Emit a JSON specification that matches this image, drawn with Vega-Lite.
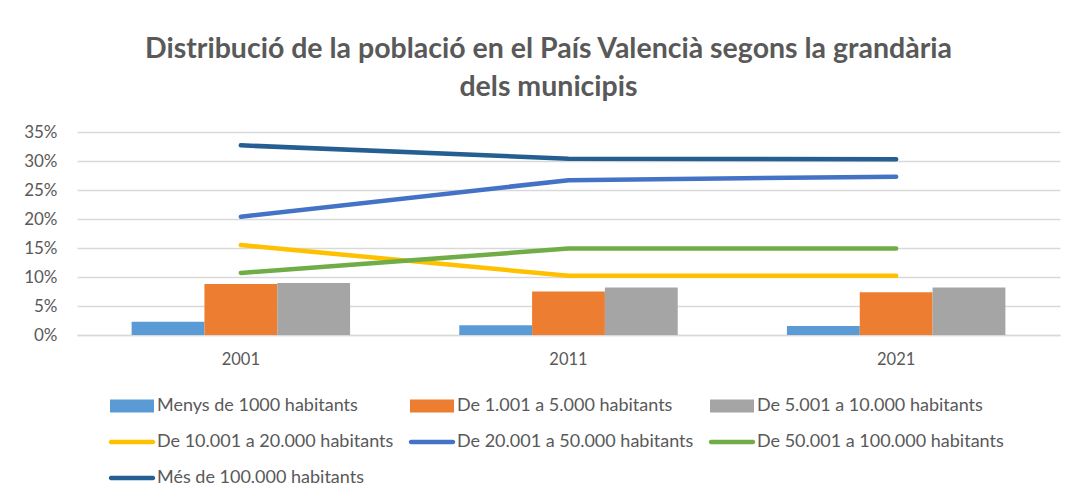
{
  "$schema": "https://vega.github.io/schema/vega-lite/v6.json",
  "autosize": {"type": "none"},
  "width": 983,
  "height": 203,
  "padding": {"left": 77, "top": 132, "right": 11, "bottom": 163},
  "background": "white",
  "config": {
    "view": {"stroke": null},
    "font": "Lato"
  },
  "title": {
    "text": ["Distribució de la població en el País Valencià segons la grandària", "dels municipis"],
    "font": "Lato",
    "fontSize": 28.5,
    "fontWeight": "bold",
    "color": "#595959",
    "lineHeight": 38,
    "anchor": "middle",
    "frame": "group",
    "dx": -20,
    "offset": 22
  },
  "data": {
    "values": [
      {"year": "2001", "series": "Menys de 1000 habitants", "kind": "bar", "value": 0.023},
      {"year": "2011", "series": "Menys de 1000 habitants", "kind": "bar", "value": 0.017},
      {"year": "2021", "series": "Menys de 1000 habitants", "kind": "bar", "value": 0.0155},
      {"year": "2001", "series": "De 1.001 a 5.000 habitants", "kind": "bar", "value": 0.088},
      {"year": "2011", "series": "De 1.001 a 5.000 habitants", "kind": "bar", "value": 0.075},
      {"year": "2021", "series": "De 1.001 a 5.000 habitants", "kind": "bar", "value": 0.0735},
      {"year": "2001", "series": "De 5.001 a 10.000 habitants", "kind": "bar", "value": 0.0895},
      {"year": "2011", "series": "De 5.001 a 10.000 habitants", "kind": "bar", "value": 0.082},
      {"year": "2021", "series": "De 5.001 a 10.000 habitants", "kind": "bar", "value": 0.082},
      {"year": "2001", "series": "De 10.001 a 20.000 habitants", "kind": "line", "value": 0.155},
      {"year": "2011", "series": "De 10.001 a 20.000 habitants", "kind": "line", "value": 0.102},
      {"year": "2021", "series": "De 10.001 a 20.000 habitants", "kind": "line", "value": 0.102},
      {"year": "2001", "series": "De 20.001 a 50.000 habitants", "kind": "line", "value": 0.204},
      {"year": "2011", "series": "De 20.001 a 50.000 habitants", "kind": "line", "value": 0.267},
      {"year": "2021", "series": "De 20.001 a 50.000 habitants", "kind": "line", "value": 0.273},
      {"year": "2001", "series": "De 50.001 a 100.000 habitants", "kind": "line", "value": 0.107},
      {"year": "2011", "series": "De 50.001 a 100.000 habitants", "kind": "line", "value": 0.149},
      {"year": "2021", "series": "De 50.001 a 100.000 habitants", "kind": "line", "value": 0.149},
      {"year": "2001", "series": "Més de 100.000 habitants", "kind": "line", "value": 0.327},
      {"year": "2011", "series": "Més de 100.000 habitants", "kind": "line", "value": 0.304},
      {"year": "2021", "series": "Més de 100.000 habitants", "kind": "line", "value": 0.303}
    ]
  },
  "encoding": {
    "x": {
      "field": "year",
      "type": "nominal",
      "scale": {"paddingInner": 0.3333, "paddingOuter": 0.16667},
      "axis": {
        "title": null,
        "labelAngle": 0,
        "labelFontSize": 16.5,
        "labelColor": "#595959",
        "labelPadding": 16,
        "ticks": false,
        "domainColor": "#d9d9d9",
        "domainWidth": 1.5
      }
    },
    "y": {
      "field": "value",
      "type": "quantitative",
      "scale": {"domain": [0, 0.35], "nice": false},
      "axis": {
        "title": null,
        "format": ".0%",
        "values": [0, 0.05, 0.1, 0.15, 0.2, 0.25, 0.3, 0.35],
        "labelFontSize": 17,
        "labelColor": "#595959",
        "labelPadding": 20,
        "domain": false,
        "ticks": false,
        "gridColor": "#d9d9d9",
        "gridWidth": 1.5
      }
    }
  },
  "layer": [
    {
      "transform": [{"filter": "datum.kind === 'bar'"}],
      "mark": {"type": "bar"},
      "encoding": {
        "xOffset": {
          "field": "series",
          "type": "nominal",
          "scale": {
            "domain": ["Menys de 1000 habitants", "De 1.001 a 5.000 habitants", "De 5.001 a 10.000 habitants"],
            "paddingInner": 0,
            "paddingOuter": 0
          }
        },
        "color": {
          "field": "series",
          "type": "nominal",
          "scale": {
            "domain": ["Menys de 1000 habitants", "De 1.001 a 5.000 habitants", "De 5.001 a 10.000 habitants", "De 10.001 a 20.000 habitants", "De 20.001 a 50.000 habitants", "De 50.001 a 100.000 habitants", "Més de 100.000 habitants"],
            "range": ["#5B9BD5", "#ED7D31", "#A5A5A5", "#FFC000", "#4472C4", "#70AD47", "#255E91"]
          },
          "legend": {
            "title": null,
            "orient": "none",
            "legendX": 33,
            "legendY": 264,
            "direction": "horizontal",
            "columns": 3,
            "columnPadding": 14,
            "rowPadding": 17,
            "padding": 0,
            "labelFontSize": 18,
            "labelColor": "#595959",
            "labelFont": "Lato",
            "labelLimit": 400,
            "symbolSize": 400,
            "labelOffset": 27,
            "symbolStrokeWidth": 0,
            "encode": {
              "symbols": {
                "update": {
                  "shape": {"signal": "indexof(['Menys de 1000 habitants','De 1.001 a 5.000 habitants','De 5.001 a 10.000 habitants'], datum.value) >= 0 ? 'M-1,-0.65H3.4V0.65H-1Z' : 'M-0.9,-0.22H3.3A0.22,0.22 0 0 1 3.3,0.22H-0.9A0.22,0.22 0 0 1 -0.9,-0.22Z'"},
                  "fill": {"scale": "color", "field": "value"},
                  "fillOpacity": {"value": 1},
                  "strokeWidth": {"value": 0}
                }
              }
            }
          }
        }
      }
    },
    {
      "transform": [{"filter": "datum.kind === 'line'"}],
      "mark": {"type": "line", "strokeWidth": 4.5, "strokeCap": "round", "strokeJoin": "round"},
      "encoding": {
        "color": {
          "field": "series",
          "type": "nominal",
          "scale": {
            "domain": ["Menys de 1000 habitants", "De 1.001 a 5.000 habitants", "De 5.001 a 10.000 habitants", "De 10.001 a 20.000 habitants", "De 20.001 a 50.000 habitants", "De 50.001 a 100.000 habitants", "Més de 100.000 habitants"],
            "range": ["#5B9BD5", "#ED7D31", "#A5A5A5", "#FFC000", "#4472C4", "#70AD47", "#255E91"]
          }
        }
      }
    }
  ]
}
